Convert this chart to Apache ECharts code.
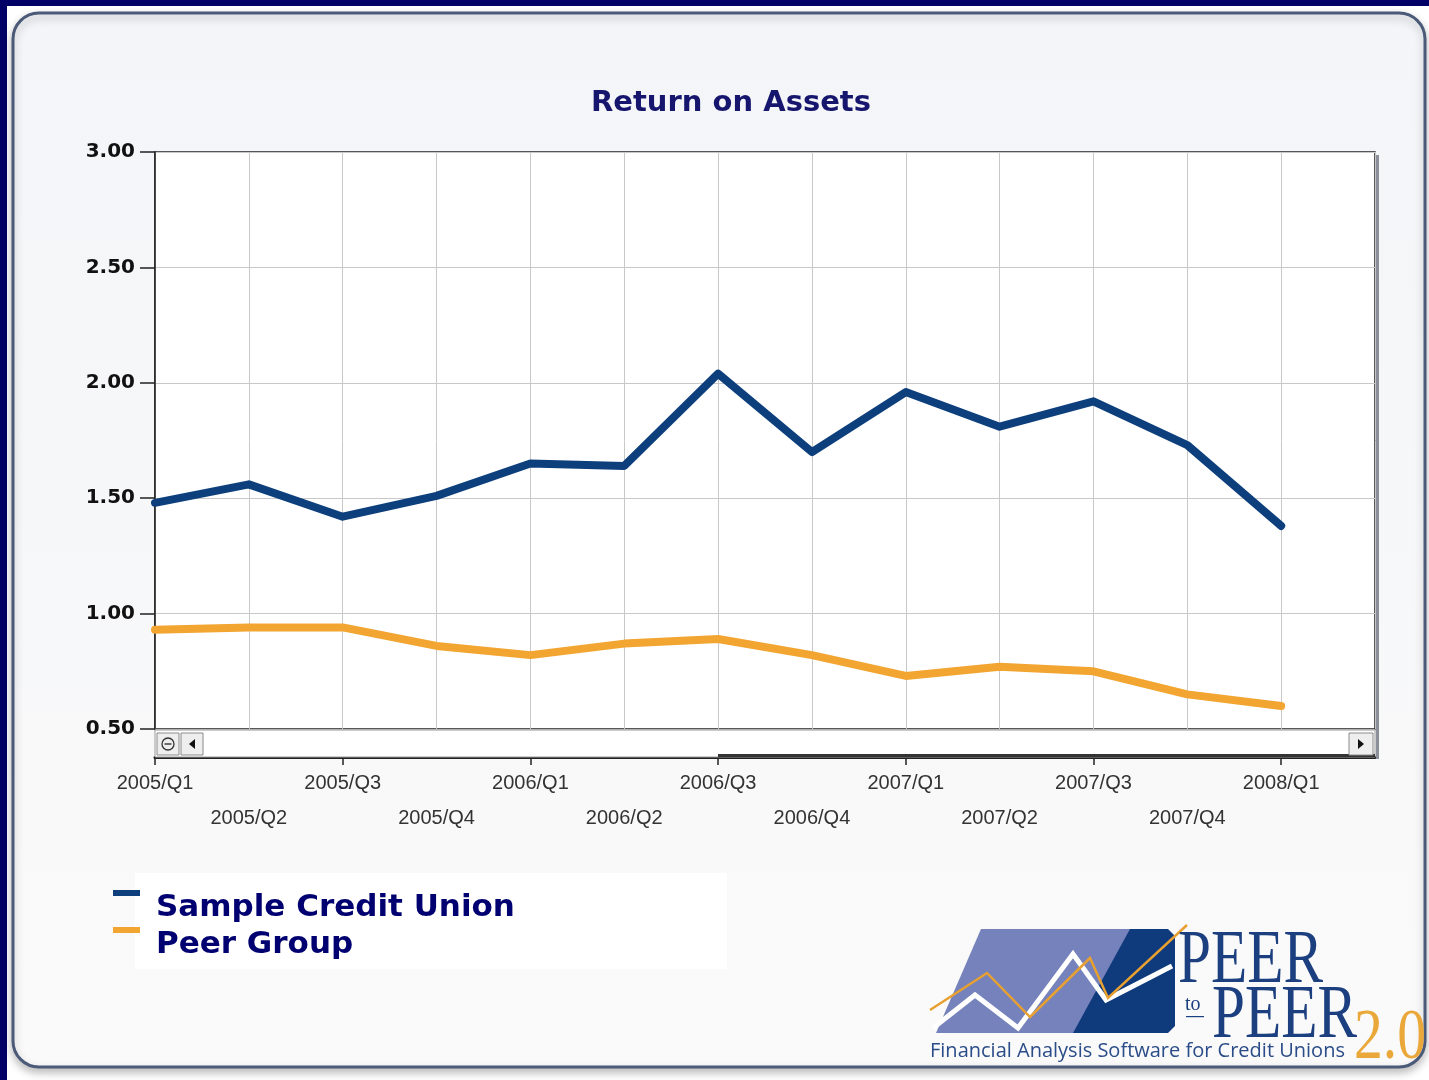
<!DOCTYPE html>
<html>
<head>
<meta charset="utf-8">
<script src="https://cdn.jsdelivr.net/npm/echarts@6/dist/echarts.min.js"></script>
<style>
html, body { margin: 0; padding: 0; background: #ffffff; }
#main { width: 1429px; height: 1080px; }
</style>
</head>
<body>
<div id="main"></div>
<script>
// quarters on the x axis
var quarters = ['2005/Q1', '2005/Q2', '2005/Q3', '2005/Q4', '2006/Q1', '2006/Q2', '2006/Q3',
    '2006/Q4', '2007/Q1', '2007/Q2', '2007/Q3', '2007/Q4', '2008/Q1'];
// Return on Assets values
var sampleCU = [1.48, 1.56, 1.42, 1.51, 1.65, 1.64, 2.04, 1.70, 1.96, 1.81, 1.92, 1.73, 1.38];
var peerGroup = [0.93, 0.94, 0.94, 0.86, 0.82, 0.87, 0.89, 0.82, 0.73, 0.77, 0.75, 0.65, 0.60];
var seriesNames = ['Sample Credit Union', 'Peer Group'];

function pairs(arr) {
    var out = [];
    for (var i = 0; i < arr.length; i++) {
        out.push([i, arr[i]]);
    }
    return out;
}
// label every quarter, tick only under the first row of labels
var labelPos = [], tickPos = [];
for (var k = 0; k < quarters.length; k++) {
    labelPos.push(k);
    if (k % 2 === 0) tickPos.push(k);
}

var myChart = echarts.init(document.getElementById('main'));
var option = {
    backgroundColor: '#ffffff',
    animation: false,
    title: {
        text: 'Return on Assets',
        left: 586,
        top: 84,
        textStyle: { fontFamily: 'DejaVu Sans', fontWeight: 'bold', fontSize: 29, color: '#16166e' }
    },
    legend: {
        orient: 'vertical',
        left: 108,
        top: 885,
        itemGap: 1,
        itemWidth: 27,
        itemHeight: 36,
        icon: 'path://M0,0h27v6h-27z M0,35.9h0.1v0.1h-0.1z',
        textStyle: {
            fontFamily: 'DejaVu Sans', fontWeight: 'bold', fontSize: 31, color: '#000070',
            lineHeight: 36, padding: [0, 0, 0, 11]
        },
        data: seriesNames
    },
    grid: {
        left: 155, right: 54, top: 152, bottom: 351,
        show: true, backgroundColor: '#ffffff', borderColor: '#222', borderWidth: 1.5
    },
    xAxis: [
        {
            // grid lines at every quarter
            type: 'value', min: 0, max: 13, interval: 1,
            axisLine: { show: false }, axisTick: { show: false }, axisLabel: { show: false },
            splitLine: { show: true, lineStyle: { color: '#c8c8c8', width: 1 } }
        },
        {
            // axis under the scrollbar with staggered labels
            type: 'value', min: 0, max: 13, interval: 1,
            position: 'bottom',
            offset: 28,
            axisLine: { show: true, lineStyle: { color: '#222', width: 3 } },
            axisTick: { show: true, length: 8, customValues: tickPos, lineStyle: { color: '#222', width: 1.5 } },
            splitLine: { show: false },
            axisLabel: {
                margin: 9,
                customValues: labelPos,
                fontFamily: 'Liberation Sans Narrow, Liberation Sans, Arial',
                fontSize: 20, color: '#333', lineHeight: 35,
                formatter: function (v) {
                    var q = quarters[v];
                    if (q === undefined) return '';
                    return v % 2 === 1 ? '\n' + q : q;
                }
            }
        }
    ],
    yAxis: {
        type: 'value',
        min: 0.5, max: 3, interval: 0.5,
        axisLine: { show: true, lineStyle: { color: '#222', width: 1.5 } },
        axisTick: { show: true, length: 15, lineStyle: { color: '#222', width: 1.5 } },
        splitLine: { show: true, lineStyle: { color: '#c8c8c8', width: 1 } },
        axisLabel: {
            margin: 20,
            fontFamily: 'DejaVu Sans', fontWeight: 'bold', fontSize: 20, color: '#111',
            formatter: function (v) { return v.toFixed(2); }
        }
    },
    series: [
        {
            name: seriesNames[0], type: 'line', xAxisIndex: 0, data: pairs(sampleCU), symbol: 'none',
            color: '#0d3f7c', z: 3,
            lineStyle: { color: '#0d3f7c', width: 8, cap: 'round', join: 'round' }
        },
        {
            name: seriesNames[1], type: 'line', xAxisIndex: 0, data: pairs(peerGroup), symbol: 'none',
            color: '#f2a531', z: 2,
            lineStyle: { color: '#f2a531', width: 8, cap: 'round', join: 'round' }
        }
    ],
    graphic: [
        // outer navy frame
        { type: 'rect', z: -10, shape: { x: 0, y: 0, width: 1429, height: 6 }, style: { fill: '#000066' } },
        { type: 'rect', z: -10, shape: { x: 0, y: 0, width: 7, height: 1080 }, style: { fill: '#000066' } },
        // rounded panel
        {
            type: 'rect', z: -9,
            shape: { x: 13, y: 13, width: 1412, height: 1054, r: 26 },
            style: {
                fill: new echarts.graphic.LinearGradient(0, 0, 0, 1, [
                    { offset: 0, color: '#f4f5f8' }, { offset: 1, color: '#fafafa' }
                ]),
                stroke: '#4b5a78', lineWidth: 3,
                shadowBlur: 8, shadowOffsetY: 4, shadowColor: 'rgba(0,0,0,0.25)'
            }
        },
        // right border shadow of plot
        { type: 'rect', z: 1, shape: { x: 1376, y: 155, width: 3, height: 604 }, style: { fill: '#8a8f9a' } },
        // scrollbar
        { type: 'rect', z: 5, shape: { x: 155, y: 730, width: 1220, height: 27 }, style: { fill: '#ffffff', stroke: '#9a9a9a', lineWidth: 1 } },
        { type: 'rect', z: 5, shape: { x: 718, y: 754, width: 657, height: 3 }, style: { fill: '#333' } },
        { type: 'rect', z: 6, shape: { x: 157, y: 733, width: 22, height: 22 }, style: { fill: '#eeeeee', stroke: '#8a8a8a', lineWidth: 1 } },
        { type: 'circle', z: 7, shape: { cx: 168, cy: 744, r: 6 }, style: { fill: 'none', stroke: '#333', lineWidth: 1.3 } },
        { type: 'rect', z: 7, shape: { x: 164.5, y: 743.3, width: 7, height: 1.4 }, style: { fill: '#333' } },
        { type: 'rect', z: 6, shape: { x: 181, y: 733, width: 22, height: 22 }, style: { fill: '#eeeeee', stroke: '#8a8a8a', lineWidth: 1 } },
        { type: 'polygon', z: 7, shape: { points: [[189, 744], [195, 739], [195, 749]] }, style: { fill: '#111' } },
        { type: 'rect', z: 6, shape: { x: 1349, y: 733, width: 24, height: 22 }, style: { fill: '#eeeeee', stroke: '#8a8a8a', lineWidth: 1 } },
        { type: 'polygon', z: 7, shape: { points: [[1364, 744], [1358, 739], [1358, 749]] }, style: { fill: '#111' } },
        // white box behind legend
        { type: 'rect', z: 1, shape: { x: 135, y: 873, width: 592, height: 96 }, style: { fill: '#ffffff' } },
        // logo
        {
            type: 'group', z: 2,
            children: [
                { type: 'polygon', shape: { points: [[981, 929], [1140, 929], [1090, 1033], [936, 1033]] }, style: { fill: '#7682bb' } },
                { type: 'polygon', shape: { points: [[1130, 929], [1168, 929], [1175, 936], [1175, 1026], [1168, 1033], [1073, 1033]] }, style: { fill: '#0f3a7c' } },
                { type: 'polyline', shape: { points: [[933, 1028], [975, 995], [1018, 1028], [1073, 954], [1106, 1000], [1172, 966]] }, style: { stroke: '#ffffff', lineWidth: 5, fill: 'none' } },
                { type: 'polyline', shape: { points: [[930, 1010], [987, 973], [1030, 1017], [1090, 958], [1108, 998], [1187, 925]] }, style: { stroke: '#e8a030', lineWidth: 2.5, fill: 'none' } },
                { type: 'text', x: 1178, y: 924, scaleX: 0.78, style: { text: 'PEER', fontFamily: 'Liberation Serif', fontSize: 76, fill: '#1c3f80' } },
                { type: 'text', x: 1212, y: 979, scaleX: 0.78, style: { text: 'PEER', fontFamily: 'Liberation Serif', fontSize: 76, fill: '#1c3f80' } },
                { type: 'text', x: 1185, y: 995, style: { text: 'to', fontFamily: 'Liberation Serif', fontSize: 20, fill: '#1c3f80' } },
                { type: 'rect', shape: { x: 1186, y: 1016, width: 18, height: 1.2 }, style: { fill: '#1c3f80' } },
                { type: 'text', x: 1354, y: 1003, scaleX: 0.8, style: { text: '2.0', fontFamily: 'Liberation Serif', fontSize: 72, fill: '#eaa83a' } },
                { type: 'text', x: 930, y: 1041, style: { text: 'Financial Analysis Software for Credit Unions', fontFamily: 'Open Sans', fontSize: 20, fill: '#2a4c88' } }
            ]
        }
    ]
};
myChart.setOption(option);
</script>
</body>
</html>
